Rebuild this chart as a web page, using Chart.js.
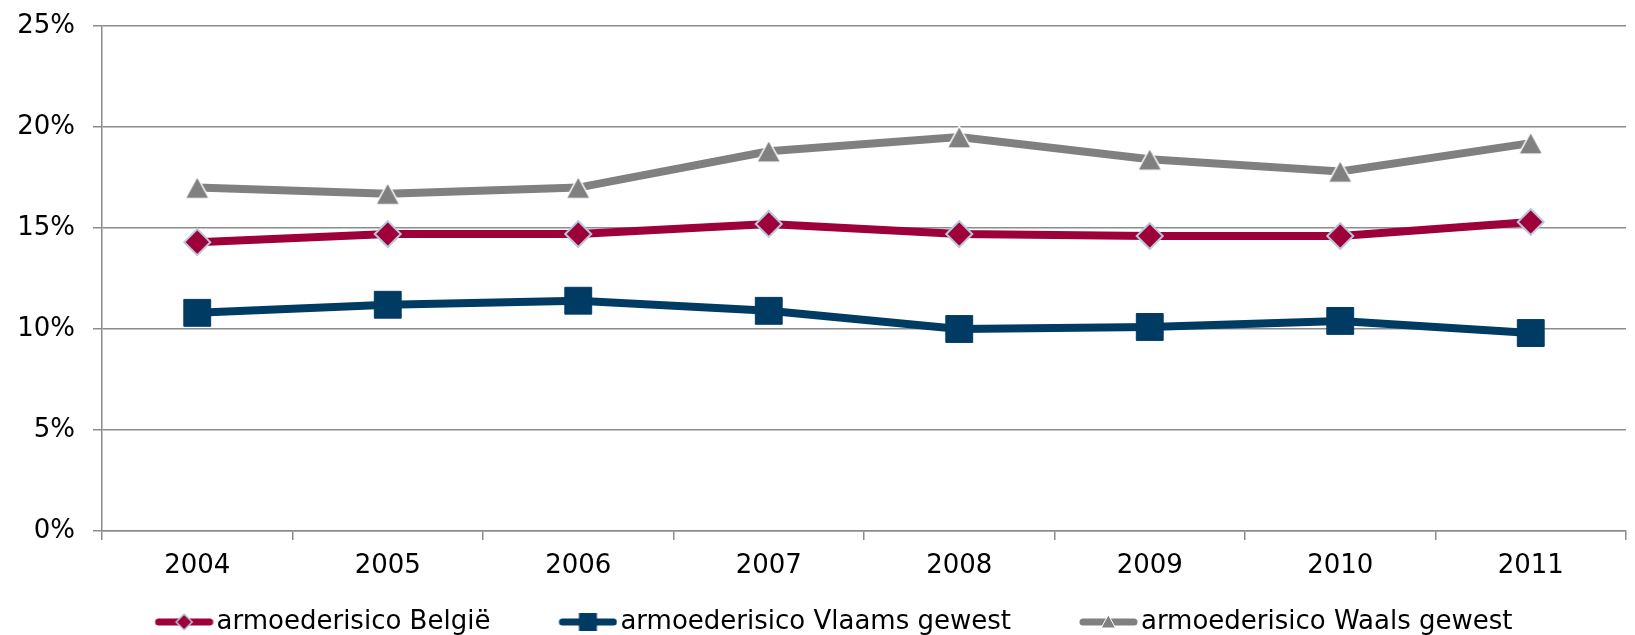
<!DOCTYPE html>
<html>
<head>
<meta charset="utf-8">
<script src="https://cdn.jsdelivr.net/npm/chart.js@4/dist/chart.umd.min.js"></script>
<style>
  html, body { margin: 0; padding: 0; background: #fff; overflow: hidden; }
  /* plot runs a little past the right edge in the original, so the box is bigger than the window */
  #wrap { width: 1646px; height: 645px; position: relative; }
</style>
</head>
<body>
<div id="wrap"><canvas id="chart"></canvas></div>
<script>
var years  = ['2004', '2005', '2006', '2007', '2008', '2009', '2010', '2011'];
var belgie = [14.3, 14.7, 14.7, 15.2, 14.7, 14.6, 14.6, 15.3];
var vlaams = [10.8, 11.2, 11.4, 10.9, 10.0, 10.1, 10.4, 9.8];
var waals  = [17.0, 16.7, 17.0, 18.8, 19.5, 18.4, 17.8, 19.2];
var labels = ['armoederisico België', 'armoederisico Vlaams gewest', 'armoederisico Waals gewest'];

var RED = '#9e003a', BLUE = '#003b63', GREY = '#808080', GRID = '#8c8c8c';

/**
* Triangle marker centred on its bounding box (Excel style)
*/
function triangle(w, h, fill, stroke) {
    var c = document.createElement('canvas');
    c.width = w + 2; c.height = h + 2;
    var ctx = c.getContext('2d');
    ctx.beginPath();
    ctx.moveTo(c.width / 2, 1);
    ctx.lineTo(c.width - 1, h + 1);
    ctx.lineTo(1, h + 1);
    ctx.closePath();
    ctx.fillStyle = fill;
    ctx.fill();
    if (stroke) { ctx.lineWidth = 1.5; ctx.strokeStyle = stroke; ctx.stroke(); }
    return c;
}

/**
* Legend swatch: short thick line with the marker in the middle.
* The line sits in the right part of the image so it ends just before the text.
*/
var BOX_W = 89;
function swatch(color, marker) {
    var c = document.createElement('canvas');
    c.width = BOX_W + 20; c.height = 26;
    var ctx = c.getContext('2d');
    var x1 = c.width - 59, x2 = c.width, cy = 13, mx = (x1 + x2) / 2;
    ctx.lineCap = 'round';
    ctx.lineWidth = 7;
    ctx.strokeStyle = color;
    ctx.beginPath();
    ctx.moveTo(x1 + 4, cy);
    ctx.lineTo(x2 - 4, cy);
    ctx.stroke();
    ctx.fillStyle = color;
    if (marker === 'diamond') {
        ctx.beginPath();
        ctx.moveTo(mx, cy - 8); ctx.lineTo(mx + 8, cy); ctx.lineTo(mx, cy + 8); ctx.lineTo(mx - 8, cy);
        ctx.closePath();
        ctx.fill();
        ctx.lineWidth = 1.5; ctx.strokeStyle = '#b8c7da'; ctx.stroke();
    } else if (marker === 'square') {
        ctx.fillRect(mx - 9, cy - 9, 18, 18);
    } else {
        ctx.beginPath();
        ctx.moveTo(mx, cy - 7); ctx.lineTo(mx + 7, cy + 6); ctx.lineTo(mx - 7, cy + 6);
        ctx.closePath();
        ctx.fill();
        ctx.lineWidth = 1; ctx.strokeStyle = '#fff'; ctx.stroke();
    }
    return c;
}

var swatches = [swatch(RED, 'diamond'), swatch(BLUE, 'square'), swatch(GREY, 'triangle')];

Chart.defaults.font.family = "'DejaVu Sans', Verdana, sans-serif";
Chart.defaults.font.size = 26;
Chart.defaults.color = '#000';

new Chart(document.getElementById('chart'), {
    type: 'line',
    data: {
        labels: years,
        datasets: [{
            label: labels[0],
            data: belgie,
            borderColor: RED,
            backgroundColor: RED,
            borderWidth: 8,
            pointStyle: 'rectRot',
            pointRadius: 13,
            pointBackgroundColor: RED,
            pointBorderColor: '#b8c7da',
            pointBorderWidth: 2
        }, {
            label: labels[1],
            data: vlaams,
            borderColor: BLUE,
            backgroundColor: BLUE,
            borderWidth: 8,
            pointStyle: 'rect',
            pointRadius: 19,
            pointBackgroundColor: BLUE,
            pointBorderColor: BLUE,
            pointBorderWidth: 1
        }, {
            label: labels[2],
            data: waals,
            borderColor: GREY,
            backgroundColor: GREY,
            borderWidth: 8,
            pointStyle: triangle(24, 22, GREY, '#fff'),
            pointRadius: 12
        }]
    },
    options: {
        responsive: true,
        maintainAspectRatio: false,
        animation: false,
        events: [],
        // negative left padding pulls the centred legend a little to the left
        layout: { padding: { top: 26, left: -19, right: 0, bottom: 0 } },
        elements: { line: { tension: 0 } },
        scales: {
            x: {
                offset: true,
                afterFit: function(scale) {
                    scale.height = 50;
                    scale.paddingLeft = 0; scale.paddingRight = 0;
                },
                grid: { offset: true, drawOnChartArea: false, drawTicks: true, tickLength: 9, color: GRID, lineWidth: 1.5 },
                border: { color: GRID, width: 1.5 },
                ticks: { padding: 11, maxRotation: 0, autoSkip: false }
            },
            y: {
                min: 0,
                max: 25,
                afterFit: function(scale) {
                    scale.width = 121;
                    scale.paddingTop = 0; scale.paddingBottom = 0;
                },
                grid: { color: GRID, lineWidth: 1.5, tickLength: 9 },
                border: { color: GRID, width: 1.5 },
                ticks: {
                    stepSize: 5,
                    padding: 18,
                    callback: function(v) { return v + '%'; }
                }
            }
        },
        plugins: {
            tooltip: { enabled: false },
            legend: {
                position: 'bottom',
                labels: {
                    usePointStyle: true,
                    pointStyleWidth: BOX_W,
                    padding: 28,
                    generateLabels: function(chart) {
                        var items = Chart.defaults.plugins.legend.labels.generateLabels(chart);
                        items.forEach(function(it) {
                            it.pointStyle = swatches[it.datasetIndex];
                            it.rotation = 0;
                        });
                        return items;
                    }
                }
            }
        }
    }
});
</script>
</body>
</html>
